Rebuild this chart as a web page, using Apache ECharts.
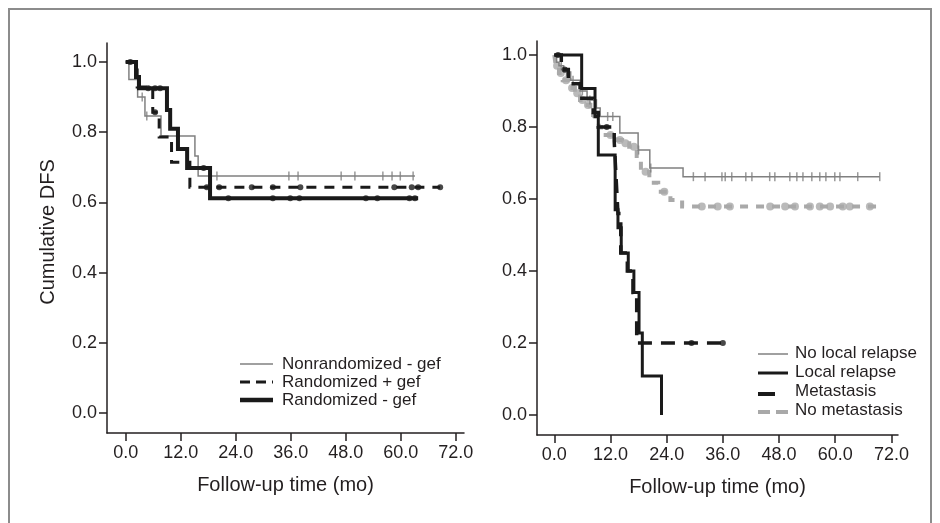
<!DOCTYPE html>
<html>
<head>
<meta charset="utf-8">
<script src="https://cdn.jsdelivr.net/npm/echarts@6/dist/echarts.min.js"></script>
<style>
html,body{margin:0;padding:0;background:#fff;}
#chart{width:940px;height:523px;}
</style>
</head>
<body>
<div id="chart"></div>
<script>
// ---------- DATA ----------
const xTicks = [0, 12, 24, 36, 48, 60, 72];
const yTicks = [0, 0.2, 0.4, 0.6, 0.8, 1.0];

// Left panel
const nonrandT = [0, 0.7, 2.6, 4.2, 7.7, 15.1, 15.8, 63.1];
const nonrandS = [1, 0.95, 0.90, 0.846, 0.789, 0.732, 0.675, 0.675];
const nonrandCensor = [3.6, 4.6, 19.9, 35.6, 37.6, 47.0, 50.0, 56.1, 58.1, 59.9, 62.7];

const randPlusT = [0, 2.5, 5.9, 7.3, 10.0, 14.0, 68.6];
const randPlusS = [1, 0.929, 0.857, 0.786, 0.714, 0.643, 0.643];
const randPlusCensor = [6.4, 17.7, 20.4, 27.5, 32.1, 38.1, 58.6, 62.4, 63.8, 68.6];

const randMinusT = [0, 2.25, 2.9, 9.0, 9.7, 11.4, 13.4, 18.4, 63.8];
const randMinusS = [1, 0.957, 0.925, 0.863, 0.81, 0.752, 0.698, 0.612, 0.612];
const randMinusCensor = [1.0, 4.9, 6.4, 7.5, 17.0, 22.4, 32.1, 35.9, 37.9, 52.4, 54.9, 61.9, 63.1];

// Right panel
const noLocalT = [0, 0.5, 1.0, 2.0, 3.5, 5.5, 7.0, 9.0, 9.8, 14.0, 17.9, 20.4, 27.5, 69.5];
const noLocalS = [1, 0.98, 0.97, 0.953, 0.93, 0.90, 0.875, 0.853, 0.829, 0.783, 0.736, 0.686, 0.662, 0.662];
const noLocalCensor = [1.5, 2.6, 4.0, 6.0, 7.6, 11.4, 12.5, 18.0, 20.6, 29.7, 32.2, 35.8, 36.5, 37.9, 40.9, 42.2, 46.0, 47.1, 50.3, 51.8, 53.1, 55.0, 56.7, 58.0, 59.9, 61.0, 64.8, 69.5];

const localT = [0, 5.85, 8.7, 9.4, 13.0, 13.6, 14.3, 15.8, 17.0, 18.1, 18.8, 22.9];
const localS = [1, 0.907, 0.829, 0.722, 0.57, 0.52, 0.45, 0.40, 0.34, 0.228, 0.108, 0];

const metT = [0, 1.5, 3.0, 5.5, 8.3, 9.4, 12.8, 13.2, 13.6, 14.2, 15.6, 16.8, 17.6, 36.0];
const metS = [1, 0.96, 0.92, 0.88, 0.84, 0.80, 0.76, 0.66, 0.56, 0.45, 0.40, 0.34, 0.20, 0.20];
const metCensor = [0.8, 2.2, 11.2, 29.3, 36.0];

const noMetT = [0, 0.3, 1.0, 1.8, 3.3, 4.4, 5.5, 6.6, 7.7, 8.3, 9.5, 10.0, 13.4, 14.5, 16.0, 17.6, 18.5, 20.3, 22.2, 24.8, 27.3, 69.5];
const noMetS = [1, 0.97, 0.95, 0.93, 0.908, 0.894, 0.875, 0.861, 0.843, 0.833, 0.80, 0.778, 0.764, 0.755, 0.745, 0.714, 0.676, 0.645, 0.62, 0.597, 0.579, 0.579];
const noMetCensor = [0.6, 1.4, 2.5, 3.8, 4.9, 6.0, 7.2, 8.8, 12.0, 14.0, 15.2, 17.0, 19.5, 23.5, 31.5, 34.9, 37.5, 46.1, 49.3, 51.4, 54.6, 56.7, 58.9, 61.6, 63.1, 67.4];

// ---------- HELPERS ----------
const FONT = '"Liberation Sans", Arial, Helvetica, sans-serif';
const TXT = '#231f20';
function pairs(T, S) { return T.map((t, i) => [t, S[i]]); }
function survAt(T, S, t) {
  let v = S[0];
  for (let i = 0; i < T.length; i++) { if (T[i] <= t) v = S[i]; }
  return v;
}
function censorPts(T, S, C) { return C.map(t => [t, survAt(T, S, t)]); }

function km(name, T, S, g, color, width, dash, z) {
  return {
    name, type: 'line', xAxisIndex: g, yAxisIndex: g, step: 'end', showSymbol: false,
    data: pairs(T, S), z: z,
    lineStyle: { color, width, type: dash || 'solid', cap: 'butt', join: 'miter' }
  };
}
function marks(T, S, C, g, color, symbol, size, z) {
  return {
    type: 'scatter', xAxisIndex: g, yAxisIndex: g, symbol, symbolSize: size,
    data: censorPts(T, S, C), z: z, itemStyle: { color }, silent: true
  };
}

function xAx(g, min, max) {
  return {
    gridIndex: g, type: 'value', min, max,
    name: 'Follow-up time (mo)', nameLocation: 'middle', nameGap: 42,
    nameTextStyle: { fontFamily: FONT, fontSize: 20, color: TXT },
    axisLine: { onZero: false, lineStyle: { color: '#231f20', width: 1.5 } },
    axisTick: { customValues: xTicks, length: 8, lineStyle: { color: '#231f20', width: 1.5 } },
    axisLabel: { customValues: xTicks, margin: 11, fontFamily: FONT, fontSize: 18, color: TXT,
      formatter: v => v.toFixed(1) },
    splitLine: { show: false }
  };
}
function yAx(g, min, max) {
  return {
    gridIndex: g, type: 'value', min, max,
    axisLine: { onZero: false, lineStyle: { color: '#231f20', width: 1.5 } },
    axisTick: { customValues: yTicks, length: 8, lineStyle: { color: '#231f20', width: 1.5 } },
    axisLabel: { customValues: yTicks, margin: 10, fontFamily: FONT, fontSize: 18, color: TXT,
      formatter: v => v.toFixed(1) },
    splitLine: { show: false }
  };
}

const GRAY = '#808080', BLACK = '#1a1a1a', LGRAY = '#a9a9a9';

const chart = echarts.init(document.getElementById('chart'), null, { renderer: 'canvas' });

function legendLine(x1, x2, y, color, width, dash) {
  return { type: 'line', shape: { x1, y1: y, x2, y2: y },
    style: { stroke: color, lineWidth: width, lineDash: dash || null }, silent: true };
}
function legendText(x, y, text) {
  return { type: 'text', x, y, style: { text, fontFamily: FONT, fontSize: 17, fill: TXT,
    textAlign: 'left', textVerticalAlign: 'middle' }, silent: true };
}

const option = {
  animation: false,
  backgroundColor: '#ffffff',
  grid: [
    { left: 107, top: 43, width: 357, height: 390 },
    { left: 537, top: 41, width: 361, height: 394 }
  ],
  xAxis: [xAx(0, -4.08, 73.8), xAx(1, -3.69, 73.4)],
  yAxis: [yAx(0, -0.057, 1.054), yAx(1, -0.0556, 1.0389)],
  series: [
    km('Nonrandomized - gef', nonrandT, nonrandS, 0, GRAY, 1.5, null, 2),
    marks(nonrandT, nonrandS, nonrandCensor, 0, GRAY, 'rect', [1.5, 9], 2),
    km('Randomized + gef', randPlusT, randPlusS, 0, BLACK, 3, [10, 8], 3),
    marks(randPlusT, randPlusS, randPlusCensor, 0, BLACK, 'circle', 6, 3),
    km('Randomized - gef', randMinusT, randMinusS, 0, BLACK, 4, null, 4),
    marks(randMinusT, randMinusS, randMinusCensor, 0, BLACK, 'circle', 6, 4),

    km('No metastasis', noMetT, noMetS, 1, LGRAY, 4, [8, 8], 2),
    marks(noMetT, noMetS, noMetCensor, 1, LGRAY, 'circle', 8, 2),
    km('No local relapse', noLocalT, noLocalS, 1, GRAY, 1.5, null, 3),
    marks(noLocalT, noLocalS, noLocalCensor, 1, GRAY, 'rect', [1.5, 9], 3),
    km('Local relapse', localT, localS, 1, BLACK, 3, null, 4),
    km('Metastasis', metT, metS, 1, BLACK, 3.5, [14, 9], 5),
    marks(metT, metS, metCensor, 1, BLACK, 'circle', 6, 5)
  ],
  graphic: [
    { type: 'rect', shape: { x: 9, y: 9, width: 922, height: 540 },
      style: { fill: 'none', stroke: '#8c8c8c', lineWidth: 2 }, silent: true, z: 100 },
    { type: 'text', x: 48, y: 232, rotation: Math.PI / 2,
      style: { text: 'Cumulative DFS', fontFamily: FONT, fontSize: 20, fill: TXT,
        textAlign: 'center', textVerticalAlign: 'middle' }, silent: true },
    // left legend
    legendLine(240, 273, 364, GRAY, 1.5),
    legendText(282, 364, 'Nonrandomized - gef'),
    legendLine(240, 273, 382, BLACK, 3, [10, 6]),
    legendText(282, 382, 'Randomized + gef'),
    legendLine(240, 273, 400, BLACK, 4.5),
    legendText(282, 400, 'Randomized - gef'),
    // right legend
    legendLine(758, 788, 354, GRAY, 1.5),
    legendText(795, 353, 'No local relapse'),
    legendLine(758, 788, 373, BLACK, 3),
    legendText(795, 372, 'Local relapse'),
    legendLine(758, 775, 394, BLACK, 4),
    legendText(795, 391.5, 'Metastasis'),
    legendLine(758, 788, 412, LGRAY, 4, [12, 6]),
    legendText(795, 410.5, 'No metastasis')
  ]
};
chart.setOption(option);
</script>
</body>
</html>
